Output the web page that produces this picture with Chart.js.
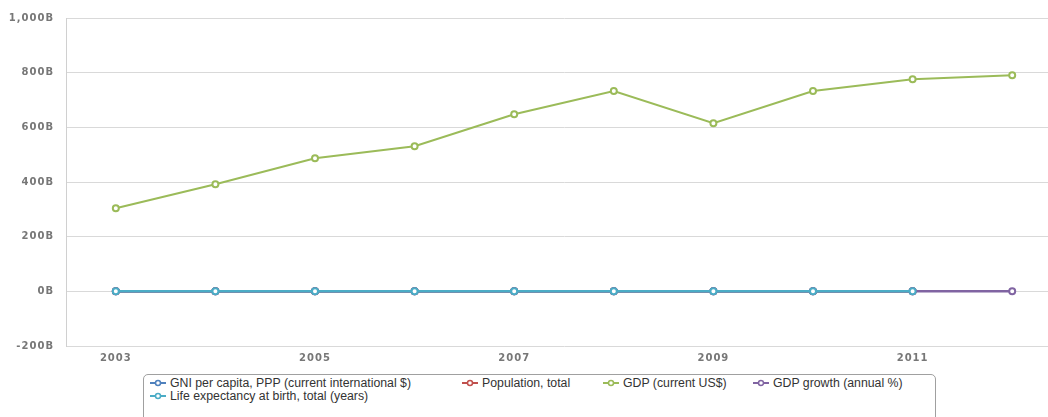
<!DOCTYPE html>
<html>
<head>
<meta charset="utf-8">
<script src="https://cdn.jsdelivr.net/npm/chart.js@4"></script>
<style>
  html, body { margin: 0; padding: 0; background: #fff; overflow: hidden; width: 1048px; height: 417px; }
  #wrap { position: absolute; left: 0; top: 0; width: 1068px; height: 372px; }
  #legend {
    position: absolute; left: 143px; top: 374px; width: 793px; height: 60px;
    border: 1px solid #a0a0a0; border-radius: 5px; box-sizing: border-box;
    font-family: "Liberation Sans", Arial, sans-serif; font-size: 12.3px; color: #333;
  }
  .item { position: absolute; white-space: nowrap; line-height: 13px; }
  .item svg { vertical-align: middle; margin-right: 4px; position: relative; top: -1px; }
</style>
</head>
<body>
<div id="wrap"><canvas id="myChart" width="1068" height="372"></canvas></div>
<div id="legend"></div>
<script>
// Categories and series
let years = ['2003', '2004', '2005', '2006', '2007', '2008', '2009', '2010', '2011', '2012'];
let gniPerCapita = [9460, 10190, 11400, 12700, 13800, 14700, 14100, 15300, 16900, null];
let population = [0.0665, 0.0673, 0.0681, 0.0689, 0.0697, 0.0705, 0.0713, 0.0722, 0.0731, null];
let gdp = [304, 392, 487, 531, 648, 733, 615, 733, 776, 791];
let gdpGrowth = [5.3, 9.4, 8.4, 6.9, 4.7, 0.7, -4.8, 9.2, 8.8, 2.1];
let lifeExpectancy = [72.1, 72.5, 72.9, 73.3, 73.7, 74.0, 74.4, 74.7, 75.0, null];

let yTicks = [-200, 0, 200, 400, 600, 800, 1000];

// colours
let colGni = '#4f81bd';
let colPop = '#c0504d';
let colGdp = '#9bbb59';
let colGrowth = '#8064a2';
let colLife = '#4bacc6';

// GDP in billions; small series scaled to billions too (they sit at zero)
function toB(arr, div) {
    return arr.map(function(v) { return v === null ? null : v / div; });
}

function series(label, data, color, width) {
    return {
        label: label,
        data: data,
        borderColor: color,
        backgroundColor: '#ffffff',
        pointBorderColor: color,
        pointBackgroundColor: '#ffffff',
        pointRadius: 3,
        pointBorderWidth: 2,
        borderWidth: width,
        tension: 0,
        spanGaps: false
    };
}

let datasets = [
    series('GNI per capita, PPP (current international $)', toB(gniPerCapita, 1e9), colGni, 2.5),
    series('Population, total', population, colPop, 2.5),
    series('GDP (current US$)', gdp, colGdp, 2),
    series('GDP growth (annual %)', toB(gdpGrowth, 1e9), colGrowth, 2.5),
    series('Life expectancy at birth, total (years)', toB(lifeExpectancy, 1e9), colLife, 2.5)
];
// Chart.js draws first dataset on top, so reverse order
datasets.forEach(function(d, i) { d.order = datasets.length - i; });

let tickFont = { family: '"DejaVu Sans", Verdana, sans-serif', size: 10, weight: 'bold' };

// wider spaced tick labels like the original
let spacing = {
    id: 'spacing',
    beforeDraw: function(chart) { chart.ctx.letterSpacing = '1px'; }
};

let ctx = document.getElementById('myChart').getContext('2d');
let myChart = new Chart(ctx, {
    type: 'line',
    data: { labels: years, datasets: datasets },
    plugins: [spacing],
    options: {
        responsive: false,
        animation: false,
        devicePixelRatio: 1,
        layout: { padding: { top: 18, right: 1, bottom: 0, left: 0 } },
        plugins: { legend: { display: false }, tooltip: { enabled: false } },
        scales: {
            x: {
                offset: true,
                grid: { display: false, drawTicks: false },
                border: { display: false },
                ticks: {
                    autoSkip: false,
                    maxRotation: 0,
                    color: '#777',
                    font: tickFont,
                    padding: 6,
                    callback: function(v, i) { return i % 2 === 0 ? years[i] : ''; }
                },
                afterFit: function(s) { s.height = 26; }
            },
            y: {
                min: yTicks[0],
                max: yTicks[yTicks.length - 1],
                afterBuildTicks: function(s) { s.ticks = yTicks.map(function(v) { return { value: v }; }); },
                grid: { color: '#d9d9d9', lineWidth: 1, drawTicks: false },
                border: { display: true, color: '#d0d0d0' },
                ticks: {
                    color: '#777',
                    font: tickFont,
                    padding: 12,
                    callback: function(v) { return v.toLocaleString('en-US') + 'B'; }
                },
                afterFit: function(s) { s.width = 66; }
            }
        }
    }
});

// HTML legend
let legendItems = [
    { label: datasets[0].label, color: colGni, x: 6, y: 2 },
    { label: datasets[1].label, color: colPop, x: 318, y: 2 },
    { label: datasets[2].label, color: colGdp, x: 459, y: 2 },
    { label: datasets[3].label, color: colGrowth, x: 609, y: 2 },
    { label: datasets[4].label, color: colLife, x: 6, y: 15 }
];
let legend = document.getElementById('legend');
legendItems.forEach(function(it) {
    let div = document.createElement('div');
    div.className = 'item';
    div.style.left = it.x + 'px';
    div.style.top = it.y + 'px';
    div.innerHTML = '<svg width="16" height="8"><line x1="0" y1="4" x2="16" y2="4" stroke="' + it.color +
        '" stroke-width="2"/><circle cx="8" cy="4" r="2.5" fill="#fff" stroke="' + it.color +
        '" stroke-width="1.5"/></svg>';
    div.appendChild(document.createTextNode(it.label));
    legend.appendChild(div);
});
</script>
</body>
</html>
